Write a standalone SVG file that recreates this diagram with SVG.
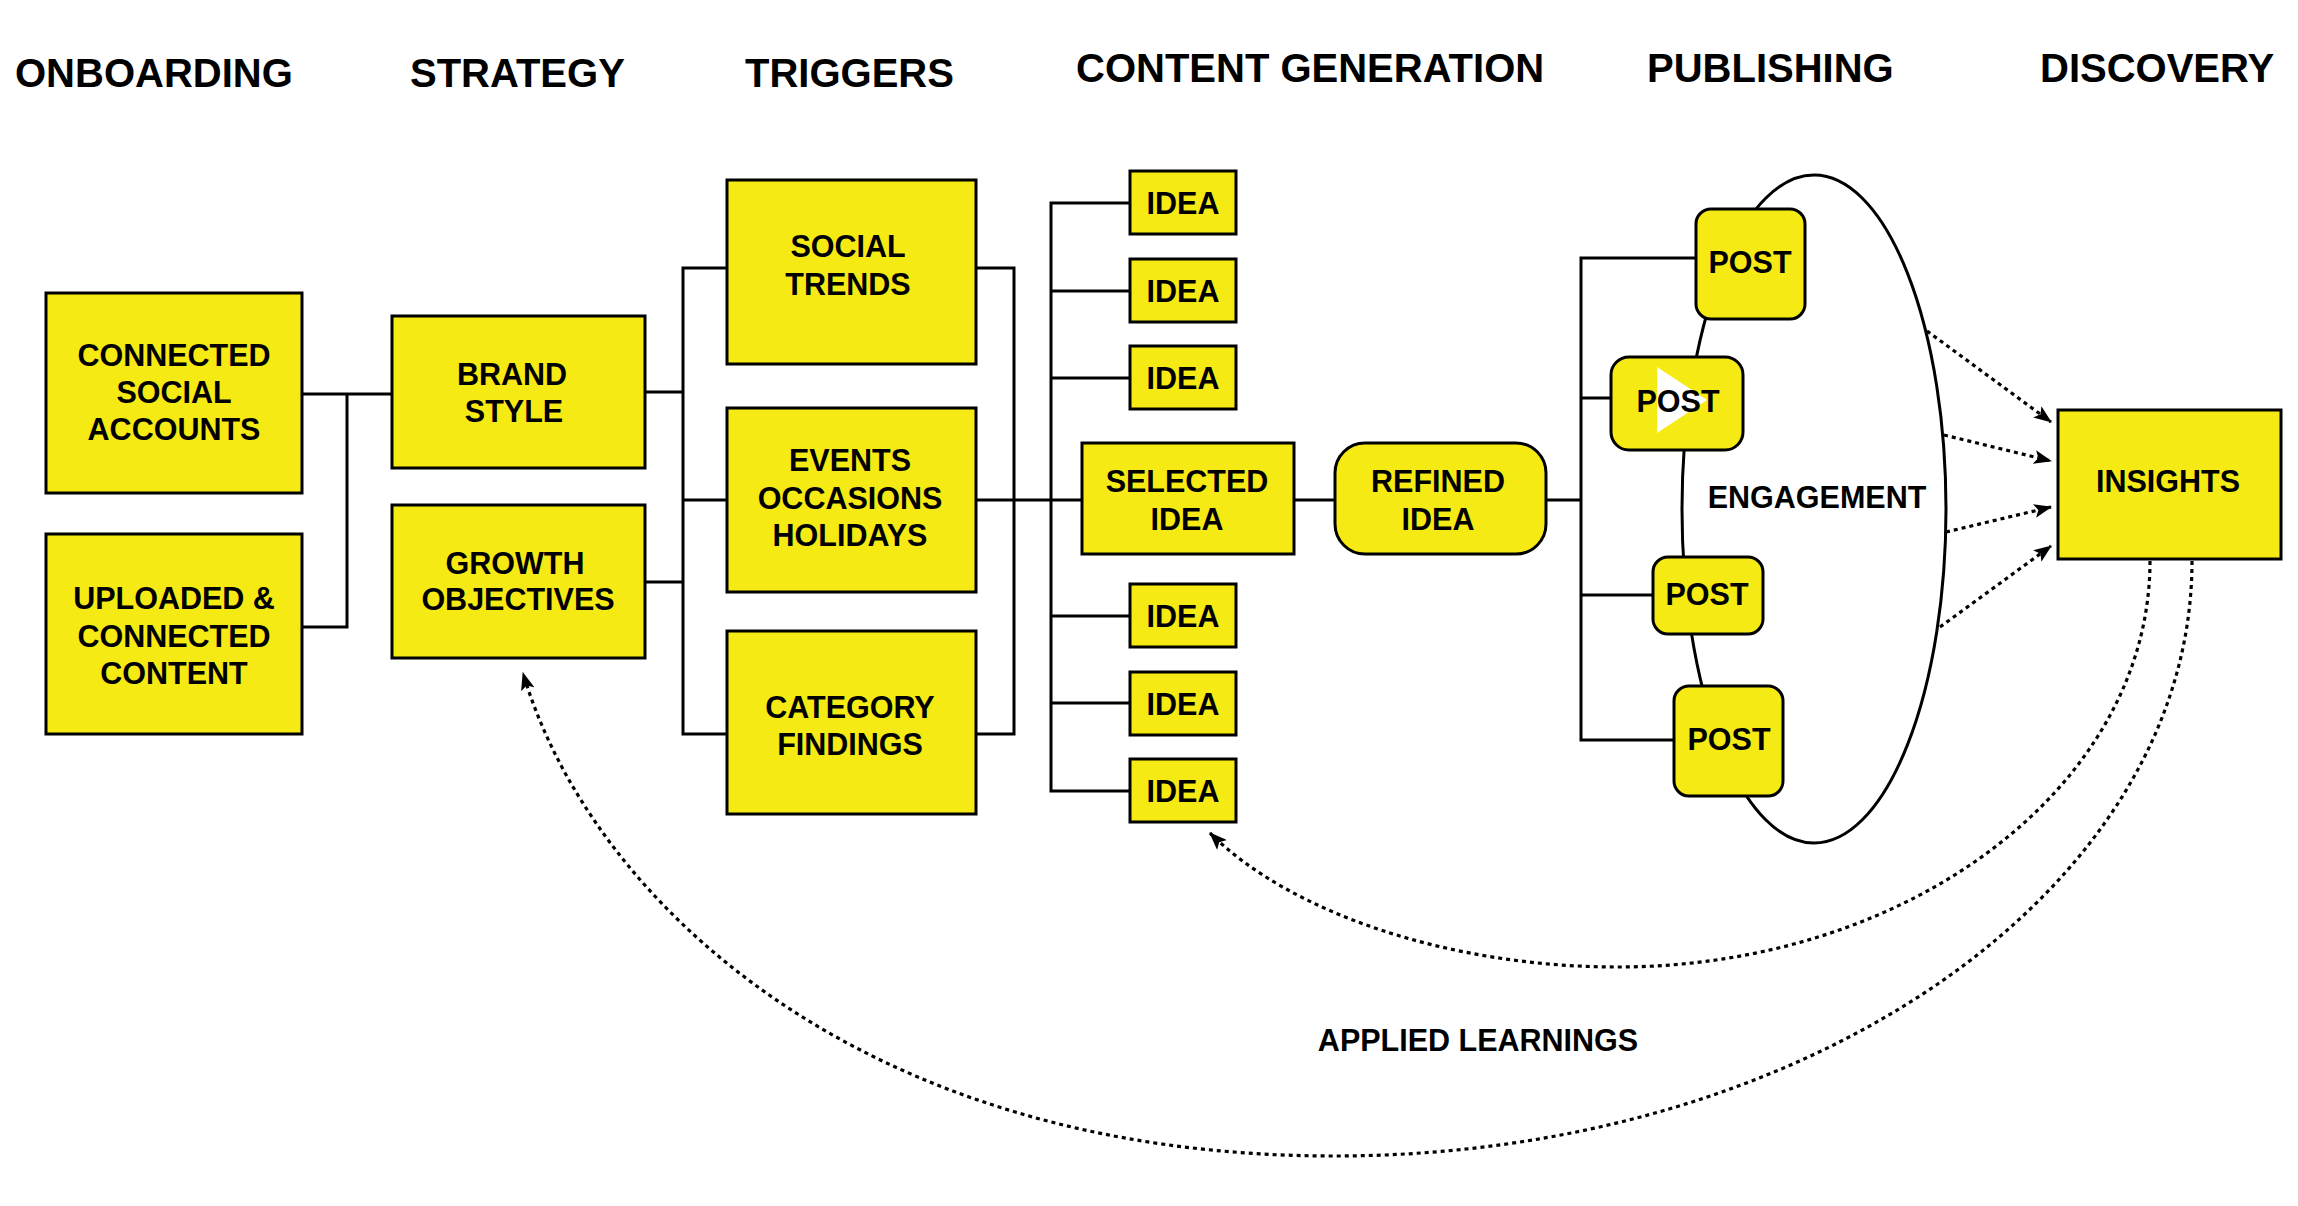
<svg xmlns="http://www.w3.org/2000/svg" width="2298" height="1206" viewBox="0 0 2298 1206">
<style>
.box{fill:#F5EA14;stroke:#000;stroke-width:3}
.ln{fill:none;stroke:#000;stroke-width:3}
.dot{fill:none;stroke:#000;stroke-width:3.2;stroke-dasharray:4 4}
.t{font-family:"Liberation Sans",Arial,sans-serif;font-weight:bold;font-size:30.5px;fill:#000;text-anchor:middle}
.h{font-family:"Liberation Sans",Arial,sans-serif;font-weight:bold;font-size:40px;fill:#000}
</style>
<defs>
<marker id="arr" viewBox="0 0 18 14" refX="17" refY="7" markerWidth="18" markerHeight="14" markerUnits="userSpaceOnUse" orient="auto">
<path d="M0,0 L18,7 L0,14 L4,7 z" fill="#000"/>
</marker>
</defs>
<rect width="2298" height="1206" fill="#fff"/>
<g id="headers">
<text class="h" x="15" y="87">ONBOARDING</text>
<text class="h" x="410" y="87">STRATEGY</text>
<text class="h" x="745" y="87">TRIGGERS</text>
<text class="h" x="1076" y="82">CONTENT GENERATION</text>
<text class="h" x="1647" y="82">PUBLISHING</text>
<text class="h" x="2040" y="82">DISCOVERY</text>
</g>
<g id="engagement">
<ellipse cx="1814" cy="509" rx="132" ry="334" fill="#fff" stroke="#000" stroke-width="3"/>
<text class="t" x="1817" y="508">ENGAGEMENT</text>
</g>
<g id="connectors">
<polyline class="ln" points="302,394 392,394"/>
<polyline class="ln" points="347,394 347,627 302,627"/>
<polyline class="ln" points="645,392 683,392"/>
<polyline class="ln" points="645,582 683,582"/>
<polyline class="ln" points="727,268 683,268 683,734 727,734"/>
<polyline class="ln" points="683,500 727,500"/>
<polyline class="ln" points="976,268 1014,268 1014,734 976,734"/>
<polyline class="ln" points="976,500 1082,500"/>
<polyline class="ln" points="1130,203 1051,203 1051,791 1130,791"/>
<polyline class="ln" points="1051,291 1130,291"/>
<polyline class="ln" points="1051,378 1130,378"/>
<polyline class="ln" points="1051,616 1130,616"/>
<polyline class="ln" points="1051,703 1130,703"/>
<polyline class="ln" points="1294,500 1335,500"/>
<polyline class="ln" points="1546,500 1581,500"/>
<polyline class="ln" points="1696,258 1581,258 1581,740 1674,740"/>
<polyline class="ln" points="1581,398 1611,398"/>
<polyline class="ln" points="1581,595 1653,595"/>
<path class="dot" d="M1927,331 L2051,422" marker-end="url(#arr)"/>
<path class="dot" d="M1944,435 L2051,461" marker-end="url(#arr)"/>
<path class="dot" d="M1946,532 L2051,507" marker-end="url(#arr)"/>
<path class="dot" d="M1940,627 L2051,546" marker-end="url(#arr)"/>
<path class="dot" d="M2150,561 C2150,785 1911,967 1617,967 C1450,967 1290,913 1210,833" marker-end="url(#arr)"/>
<path class="dot" d="M2192,561 C2192,890 1808,1156 1334,1156 C860,1156 590,900 523,673" marker-end="url(#arr)"/>
<text class="t" x="1478" y="1051">APPLIED LEARNINGS</text>
</g>
<g id="connected-social-accounts">
<rect class="box" x="46" y="293" width="256" height="200"/>
<text class="t" x="174" y="366">CONNECTED</text>
<text class="t" x="174" y="403">SOCIAL</text>
<text class="t" x="174" y="440">ACCOUNTS</text>
</g>
<g id="uploaded-content">
<rect class="box" x="46" y="534" width="256" height="200"/>
<text class="t" x="174" y="609">UPLOADED &amp;</text>
<text class="t" x="174" y="647">CONNECTED</text>
<text class="t" x="174" y="684">CONTENT</text>
</g>
<g id="brand-style">
<rect class="box" x="392" y="316" width="253" height="152"/>
<text class="t" x="512" y="385">BRAND</text>
<text class="t" x="514" y="422">STYLE</text>
</g>
<g id="growth-objectives">
<rect class="box" x="392" y="505" width="253" height="153"/>
<text class="t" x="515" y="574">GROWTH</text>
<text class="t" x="518" y="610">OBJECTIVES</text>
</g>
<g id="social-trends">
<rect class="box" x="727" y="180" width="249" height="184"/>
<text class="t" x="848" y="257">SOCIAL</text>
<text class="t" x="848" y="295">TRENDS</text>
</g>
<g id="events">
<rect class="box" x="727" y="408" width="249" height="184"/>
<text class="t" x="850" y="471">EVENTS</text>
<text class="t" x="850" y="508.5">OCCASIONS</text>
<text class="t" x="850" y="546">HOLIDAYS</text>
</g>
<g id="category-findings">
<rect class="box" x="727" y="631" width="249" height="183"/>
<text class="t" x="850" y="718">CATEGORY</text>
<text class="t" x="850" y="755">FINDINGS</text>
</g>
<g id="idea-1"><rect class="box" x="1130" y="171" width="106" height="63"/><text class="t" x="1183" y="214">IDEA</text></g>
<g id="idea-2"><rect class="box" x="1130" y="259" width="106" height="63"/><text class="t" x="1183" y="301.5">IDEA</text></g>
<g id="idea-3"><rect class="box" x="1130" y="346" width="106" height="63"/><text class="t" x="1183" y="389">IDEA</text></g>
<g id="idea-4"><rect class="box" x="1130" y="584" width="106" height="63"/><text class="t" x="1183" y="627">IDEA</text></g>
<g id="idea-5"><rect class="box" x="1130" y="672" width="106" height="63"/><text class="t" x="1183" y="714.5">IDEA</text></g>
<g id="idea-6"><rect class="box" x="1130" y="759" width="106" height="63"/><text class="t" x="1183" y="802">IDEA</text></g>
<g id="selected-idea">
<rect class="box" x="1082" y="443" width="212" height="111"/>
<text class="t" x="1187" y="492">SELECTED</text>
<text class="t" x="1187" y="529.5">IDEA</text>
</g>
<g id="refined-idea">
<rect class="box" x="1335" y="443" width="211" height="111" rx="30" ry="30"/>
<text class="t" x="1438" y="492">REFINED</text>
<text class="t" x="1438" y="529.5">IDEA</text>
</g>
<g id="post-1">
<rect class="box" x="1696" y="209" width="109" height="110" rx="15" ry="15"/>
<text class="t" x="1750" y="273">POST</text>
</g>
<g id="post-2">
<rect class="box" x="1611" y="357" width="132" height="93" rx="18" ry="18"/>
<polygon points="1657,367 1657,433 1707,400" fill="#fff"/>
<text class="t" x="1678" y="412">POST</text>
</g>
<g id="post-3">
<rect class="box" x="1653" y="557" width="110" height="77" rx="15" ry="15"/>
<text class="t" x="1707" y="604.5">POST</text>
</g>
<g id="post-4">
<rect class="box" x="1674" y="686" width="109" height="110" rx="15" ry="15"/>
<text class="t" x="1729" y="750">POST</text>
</g>
<g id="insights">
<rect class="box" x="2058" y="410" width="223" height="149"/>
<text class="t" x="2168" y="492">INSIGHTS</text>
</g>
</svg>
